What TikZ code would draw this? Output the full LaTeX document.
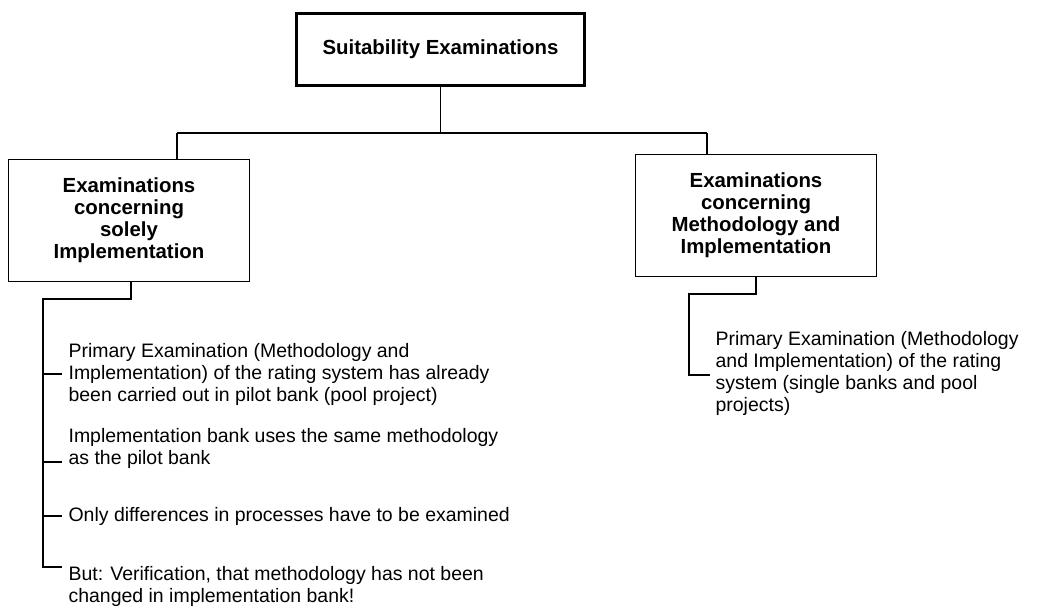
\documentclass[tikz,border=0pt]{standalone}
\usepackage{fontspec}
\setmainfont{Liberation Sans}
\begin{document}
\begin{tikzpicture}[x=0.75pt, y=-0.75pt, line width=0.9pt,
  every node/.style={font=\fontsize{14.6}{16.5}\selectfont},
  headbox/.style={draw, line width=2.2pt, minimum width=216pt, minimum height=54pt, font=\fontsize{15.3}{16.5}\selectfont\bfseries},
  catbox/.style={draw, minimum width=180.5pt, minimum height=91.5pt, align=center, font=\fontsize{15.3}{16.5}\selectfont\bfseries},
  note/.style={anchor=west, align=left, inner sep=0pt}]
\useasboundingbox (0,0) rectangle (1037,614);
% boxes
\node[headbox] (top) at (440.5,49.5) {Suitability Examinations};
\node[catbox] (impl) at (129,220.5) {Examinations\\concerning\\solely\\Implementation};
\node[catbox] (meth) at (756,215.5) {Examinations\\concerning\\Methodology and\\Implementation};
% tree
\coordinate (bus) at (440.5,133);
\coordinate (lj) at (177,133);
\coordinate (rj) at (707,133);
\draw (top.south) -- (bus);
\draw (lj) -- (rj);
\draw (lj) -- (lj |- impl.north);
\draw (rj) -- (rj |- meth.north);
% left notes
\node[note] (n1) at (68,374) {Primary Examination (Methodology and\\Implementation) of the rating system has already\\been carried out in pilot bank (pool project)};
\node[note] (n2) at (68,448) {Implementation bank uses the same methodology\\as the pilot bank};
\node[note] (n3) at (68,516) {Only differences in processes have to be examined};
\node[note] (n4) at (68,586) {But: Verification, that methodology has not been\\changed in implementation bank!};
\coordinate (t1) at ([xshift=-4.5pt]n1.west);
\coordinate (t2) at ([xshift=-4.5pt,yshift=-10.5pt]n2.west);
\coordinate (t3) at ([xshift=-4.5pt]n3.west);
\coordinate (t4) at ([xshift=-4.5pt,yshift=14.25pt]n4.west);
\coordinate (ls) at (43,299);
\draw (131,282 |- impl.south) -- (131,299) -- (ls) |- (t4);
\foreach \t in {t1,t2,t3}
  \draw (ls |- \t) -- (\t);
% right note
\node[note] (n5) at (715,373) {Primary Examination (Methodology\\and Implementation) of the rating\\system (single banks and pool\\projects)};
\coordinate (t5) at ([xshift=-3.75pt,yshift=-1.5pt]n5.west);
\coordinate (rs) at (689,294);
\draw (meth.south) -- (meth.south |- rs) -- (rs) |- (t5);
\end{tikzpicture}
\end{document}
